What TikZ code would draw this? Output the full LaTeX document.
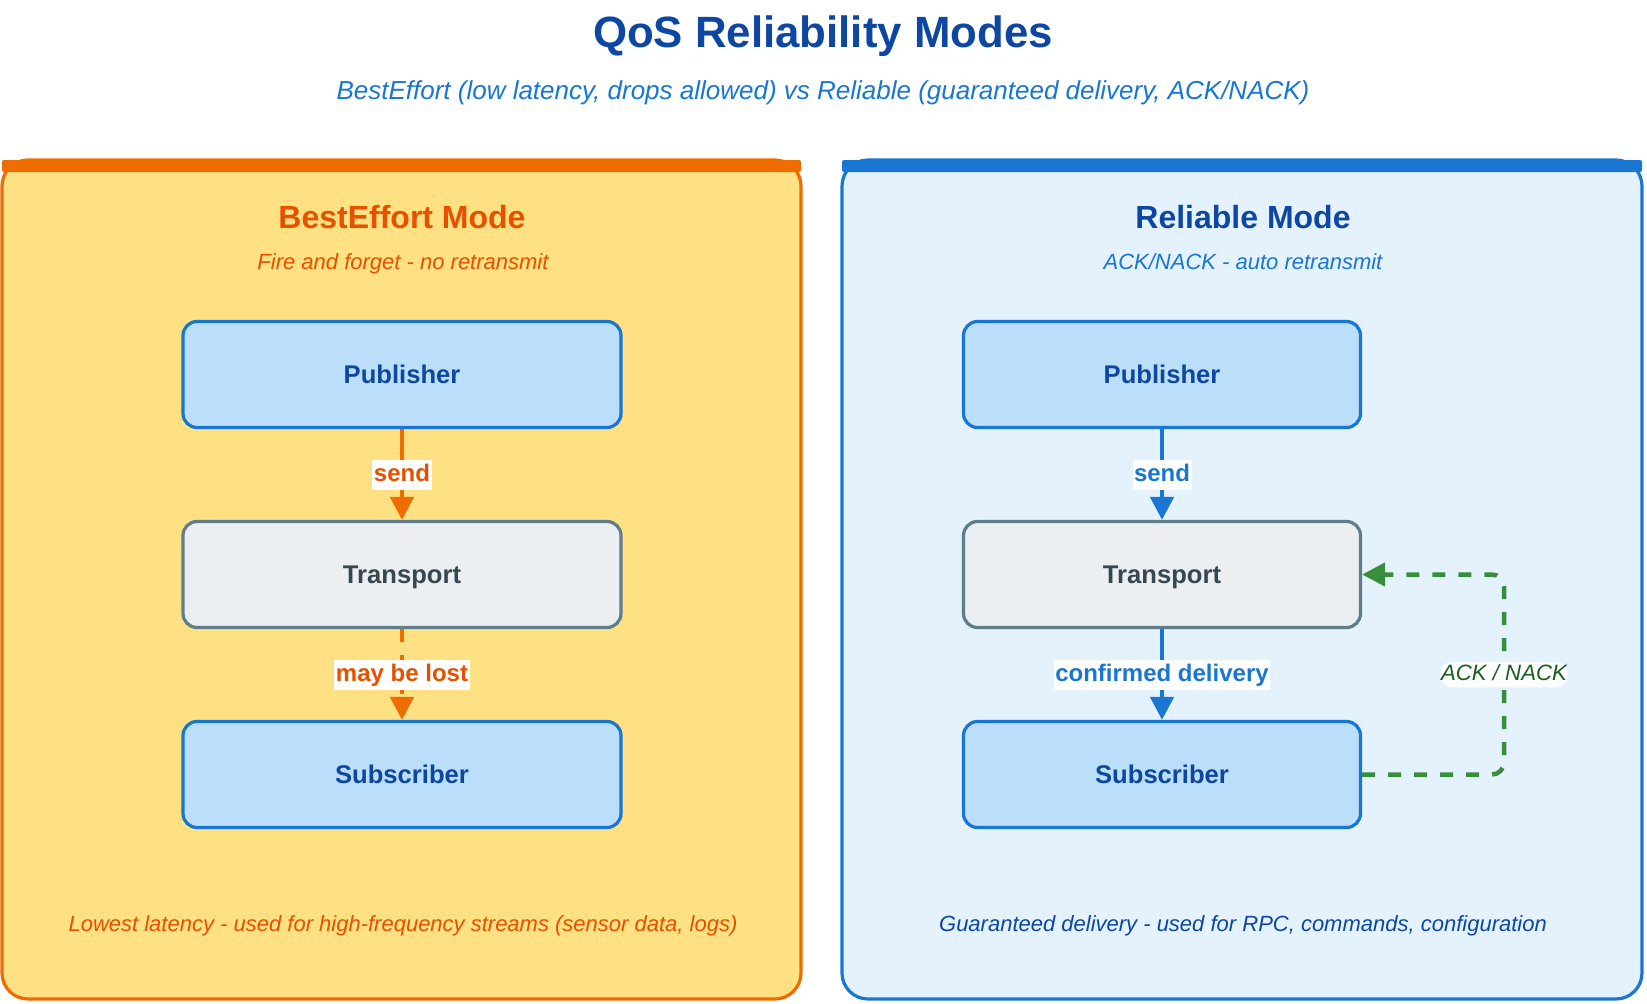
\documentclass[tikz,border=0pt]{standalone}
\usepackage{fontspec}
\setmainfont{Liberation Sans}
\usepackage{tikz}
\usetikzlibrary{arrows.meta}
\definecolor{titleblue}{HTML}{0D47A1}
\definecolor{subblue}{HTML}{1976D2}
\definecolor{beorange}{HTML}{EF6C00}
\definecolor{bedark}{HTML}{E65100}
\definecolor{befill}{HTML}{FFE082}
\definecolor{relfill}{HTML}{E3F2FD}
\definecolor{nodefill}{HTML}{BBDEFB}
\definecolor{grayfill}{HTML}{ECEFF1}
\definecolor{grayline}{HTML}{607D8B}
\definecolor{graytext}{HTML}{37474F}
\definecolor{ackgreen}{HTML}{388E3C}
\definecolor{ackdark}{HTML}{1B5E20}

\begin{document}
\begin{tikzpicture}[x=1pt, y=-1pt,
  box/.style={rectangle, rounded corners=14pt, line width=3.2pt, minimum height=106pt, text height=17.6pt, text depth=0pt, font=\fontsize{25.6}{30}\selectfont\bfseries},
  pubsub/.style={box, draw=subblue, fill=nodefill, text=titleblue},
  transport/.style={box, draw=grayline, fill=grayfill, text=graytext},
  panelhead/.style={anchor=base, font=\fontsize{32}{38}\selectfont\bfseries},
  paneltext/.style={anchor=base, font=\fontsize{22}{26}\selectfont\itshape},
  flow/.style={line width=4.5pt, -{Triangle[length=23pt, width=23pt]}},
  flowlabel/.style={fill=white, inner xsep=1.5pt, inner ysep=4.75pt, text height=17pt, text depth=3.5pt, font=\fontsize{24}{28}\selectfont\bfseries},
  dashes/.style={dash pattern=on 13pt off 13pt}]
\useasboundingbox (0,0) rectangle (1647,1004);

% title
\node[anchor=base, text=titleblue, font=\fontsize{43.8}{52}\selectfont\bfseries] (title) at (823,47) {QoS Reliability Modes};
\node[anchor=base, text=subblue, font=\fontsize{26}{30}\selectfont\itshape] (subtitle) at (823,99) {BestEffort (low latency, drops allowed) vs Reliable (guaranteed delivery, ACK/NACK)};

% panels
\draw[line width=3.2pt, rounded corners=26pt, draw=beorange, fill=befill] (2,160) rectangle (801,999);
\fill[beorange, rounded corners=2pt] (2,160) rectangle (801,172);
\draw[line width=3.2pt, rounded corners=26pt, draw=subblue, fill=relfill] (842,160) rectangle (1642,999);
\fill[subblue, rounded corners=2pt] (842,160) rectangle (1642,172);

% BestEffort side
\node[panelhead, text=bedark] (behead) at (402,228) {BestEffort Mode};
\node[paneltext, text=bedark] (besub) at (403,269) {Fire and forget - no retransmit};
\node[pubsub, minimum width=438pt] (pub1) at (402,374.5) {Publisher};
\node[transport, minimum width=438pt] (tr1) at (402,574.5) {Transport};
\node[pubsub, minimum width=438pt] (sub1) at (402,774.5) {Subscriber};
\draw[flow, beorange] (pub1) -- node[flowlabel, text=bedark] {send} (tr1);
\draw[flow, beorange, dashes] (tr1) -- node[flowlabel, text=bedark] {may be lost} (sub1);
\node[paneltext, text=bedark] (benote) at (403,931) {Lowest latency - used for high-frequency streams (sensor data, logs)};

% Reliable side
\node[panelhead, text=titleblue] (relhead) at (1243,228) {Reliable Mode};
\node[paneltext, text=subblue] (relsub) at (1243,269) {ACK/NACK - auto retransmit};
\node[pubsub, minimum width=397pt] (pub2) at (1162,374.5) {Publisher};
\node[transport, minimum width=397pt] (tr2) at (1162,574.5) {Transport};
\node[pubsub, minimum width=397pt] (sub2) at (1162,774.5) {Subscriber};
\draw[flow, subblue] (pub2) -- node[flowlabel, text=subblue] {send} (tr2);
\draw[flow, subblue] (tr2) -- node[flowlabel, text=subblue] {confirmed delivery} (sub2);
\coordinate (loopb) at (1504,774.5);
\coordinate (loopt) at (1504,574.5);
\draw[flow, ackgreen, dashes, rounded corners=12pt] (sub2.east) -- (loopb) -- node[fill=white, inner xsep=1pt, inner ysep=3pt, text height=15.5pt, text depth=4pt, text=ackdark, font=\fontsize{22.2}{26}\selectfont\itshape] {ACK / NACK} (loopt) -- (tr2.east);
\node[paneltext, text=titleblue] (relnote) at (1243,931) {Guaranteed delivery - used for RPC, commands, configuration};
\end{tikzpicture}
\end{document}
